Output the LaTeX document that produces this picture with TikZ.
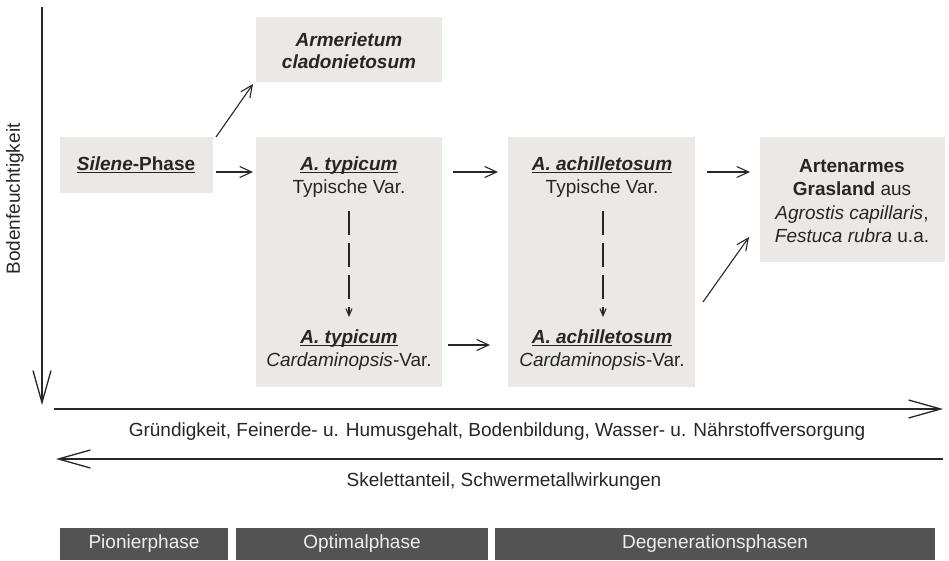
\documentclass[tikz,border=0pt]{standalone}
\usepackage{fontspec}
\setmainfont{Liberation Sans}
\usetikzlibrary{arrows.meta}
\definecolor{boxgray}{HTML}{ECE8E6}
\definecolor{bardark}{HTML}{535353}
\definecolor{bartext}{HTML}{EEEEEE}
\definecolor{inkc}{HTML}{262626}
\newcommand\myul[1]{\setbox0\hbox{#1}\rlap{\rule[-2.8pt]{\wd0}{1.4pt}}\box0}
\begin{document}
\begin{tikzpicture}[x=1pt,y=-1pt,
  every node/.style={inner sep=0pt, outer sep=0pt, text=inkc},
  txt/.style={font=\fontsize{19}{23.5}\selectfont, align=center},
  bgbox/.style={fill=boxgray, draw=none, anchor=north west},
  phasebar/.style={fill=bardark, draw=none, text=bartext, minimum height=32pt, font=\fontsize{19}{23}\selectfont},
  conn/.style={draw=inkc, line width=1.1pt, -{Straight Barb[length=12pt,width=11pt]}},
  dconn/.style={draw=inkc, line width=1.1pt, dash pattern=on 24pt off 8pt, -{Straight Barb[length=7pt,width=6pt]}},
  axis/.style={draw=inkc, line width=1.3pt, -{Straight Barb[length=32pt,width=18pt]}}
]
\useasboundingbox (0,0) rectangle (949,561);
\fill[white] (0,0) rectangle (949,561);

% background boxes
\node[bgbox, minimum width=186pt, minimum height=65pt] (armbox) at (256,17) {};
\node[bgbox, minimum width=153pt, minimum height=56pt] (silbox) at (60,137) {};
\node[bgbox, minimum width=186pt, minimum height=250pt] (typbox) at (256,137) {};
\node[bgbox, minimum width=187pt, minimum height=250pt] (achbox) at (508,137) {};
\node[bgbox, minimum width=185pt, minimum height=125pt] (artbox) at (760,137) {};

% texts
\node[txt, font=\fontsize{19}{22}\selectfont\bfseries\itshape] (armtext) at (349,51) {Armerietum\\cladonietosum};
\node[txt] (siltext) at (136,165) {\myul{\textbf{\textit{Silene}-Phase}}};
\node[txt] (typ1) at (349,177) {\myul{\textbf{\textit{A. typicum}}}\\Typische Var.};
\node[txt] (typ2) at (349,350) {\myul{\textbf{\textit{A. typicum}}}\\\textit{Cardaminopsis}-Var.};
\node[txt] (ach1) at (602,177) {\myul{\textbf{\textit{A. achilletosum}}}\\Typische Var.};
\node[txt] (ach2) at (602,350) {\myul{\textbf{\textit{A. achilletosum}}}\\\textit{Cardaminopsis}-Var.};
\node[txt] (arttext) at (852,201) {\textbf{Artenarmes}\\\textbf{Grasland} aus\\\textit{Agrostis capillaris},\\\textit{Festuca rubra} u.a.};

% connectors
\draw[conn] ([shift={(3,0)}]silbox.north east) -- ([shift={(-3,2)}]armbox.south west);
\draw[conn] ([shift={(3,7)}]silbox.east) -- ([shift={(-3,35)}]typbox.north west);
\draw[conn] ([shift={(11,35)}]typbox.north east) -- ([shift={(-10,35)}]achbox.north west);
\draw[conn] ([shift={(12,35)}]achbox.north east) -- ([shift={(-10,35)}]artbox.north west);
\draw[conn] ([shift={(6,-42)}]typbox.south east) -- ([shift={(-18,-42)}]achbox.south west);
\draw[conn] ([shift={(8,-85)}]achbox.south east) -- ([shift={(-11,-25)}]artbox.south west);
\draw[dconn] ([shift={(0,74)}]typbox.north) -- ([shift={(0,180)}]typbox.north);
\draw[dconn] ([shift={(1.5,74)}]achbox.north) -- ([shift={(1.5,180)}]achbox.north);

% axes
\coordinate (vtop) at (42,7);
\coordinate (vbot) at (42,405);
\coordinate (h1a) at (54,409);
\coordinate (h1b) at (943,409);
\coordinate (h2a) at (943,459);
\coordinate (h2b) at (56,459);
\draw[axis] (vtop) -- (vbot);
\draw[axis] (h1a) -- (h1b);
\draw[axis] (h2a) -- (h2b);

\node[txt, rotate=90] (ylab) at (15,199) {Bodenfeuchtigkeit};
\node[txt] (xlab1) at (497,432) {Gründigkeit, Feinerde- u. Humusgehalt, Bodenbildung, Wasser- u. Nährstoffversorgung};
\node[txt] (xlab2) at (504,482) {Skelettanteil, Schwermetallwirkungen};

% phase bars
\node[phasebar, minimum width=168pt] (bar1) at (144,544) {Pionierphase};
\node[phasebar, minimum width=252pt] (bar2) at (362,544) {Optimalphase};
\node[phasebar, minimum width=440pt] (bar3) at (715,544) {Degenerationsphasen};
\end{tikzpicture}
\end{document}
